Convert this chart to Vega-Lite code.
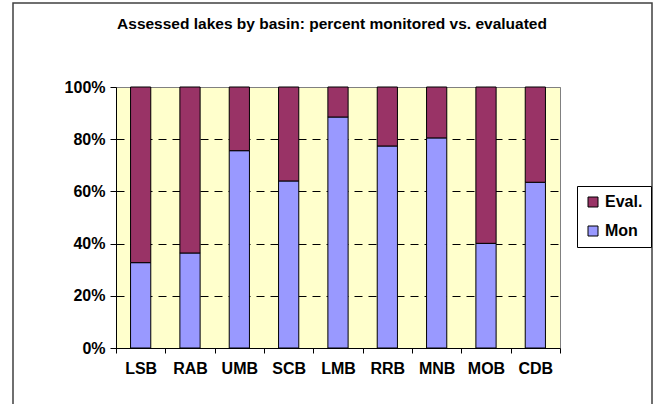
{
  "$schema": "https://vega.github.io/schema/vega-lite/v6.json",
  "width": 444,
  "height": 261,
  "autosize": {"type": "none"},
  "padding": {"left": 116, "top": 87, "right": 100, "bottom": 56},
  "background": "white",
  "title": {
    "text": "Assessed lakes by basin: percent monitored vs. evaluated",
    "font": "Liberation Sans",
    "fontSize": 15.5,
    "fontWeight": "bold",
    "color": "black",
    "anchor": "middle",
    "frame": "group",
    "baseline": "bottom",
    "offset": -45,
    "dx": -6
  },
  "config": {
    "view": {"fill": "#FFFFCC", "stroke": "#808080", "strokeWidth": 1}
  },
  "layer": [
    {
      "data": {"values": [{"frame": 1}]},
      "mark": {"type": "rect", "fill": null, "stroke": "#404040", "strokeWidth": 1.5},
      "encoding": {
        "x": {"value": -103},
        "x2": {"value": 536},
        "y": {"value": -84},
        "y2": {"value": 330}
      }
    },
    {
      "data": {
        "values": [
          {"basin": "LSB", "series": "Mon", "pct": 32.7},
          {"basin": "LSB", "series": "Eval.", "pct": 67.3},
          {"basin": "RAB", "series": "Mon", "pct": 36.4},
          {"basin": "RAB", "series": "Eval.", "pct": 63.6},
          {"basin": "UMB", "series": "Mon", "pct": 75.6},
          {"basin": "UMB", "series": "Eval.", "pct": 24.4},
          {"basin": "SCB", "series": "Mon", "pct": 64.0},
          {"basin": "SCB", "series": "Eval.", "pct": 36.0},
          {"basin": "LMB", "series": "Mon", "pct": 88.5},
          {"basin": "LMB", "series": "Eval.", "pct": 11.5},
          {"basin": "RRB", "series": "Mon", "pct": 77.4},
          {"basin": "RRB", "series": "Eval.", "pct": 22.6},
          {"basin": "MNB", "series": "Mon", "pct": 80.5},
          {"basin": "MNB", "series": "Eval.", "pct": 19.5},
          {"basin": "MOB", "series": "Mon", "pct": 40.1},
          {"basin": "MOB", "series": "Eval.", "pct": 59.9},
          {"basin": "CDB", "series": "Mon", "pct": 63.5},
          {"basin": "CDB", "series": "Eval.", "pct": 36.5}
        ]
      },
      "mark": {"type": "bar", "stroke": "black", "strokeWidth": 1, "width": {"band": 0.41}},
      "encoding": {
        "x": {
          "field": "basin",
          "type": "nominal",
          "sort": null,
          "scale": {"paddingInner": 0, "paddingOuter": 0},
          "axis": {
            "title": null,
            "tickBand": "extent",
            "labelAngle": 0,
            "domainColor": "black",
            "tickColor": "black",
            "tickSize": 5,
            "labelFont": "Liberation Sans",
            "labelFontSize": 16,
            "labelFontWeight": "bold",
            "labelColor": "black",
            "labelPadding": 7
          }
        },
        "y": {
          "field": "pct",
          "type": "quantitative",
          "stack": "normalize",
          "scale": {"domain": [0, 1]},
          "axis": {
            "title": null,
            "format": ".0%",
            "values": [0, 0.2, 0.4, 0.6, 0.8, 1],
            "grid": true,
            "gridColor": {"condition": {"test": "datum.value === 1", "value": "#808080"}, "value": "black"},
            "gridDash": {"condition": {"test": "datum.value === 1", "value": []}, "value": [8, 6]},
            "gridWidth": 1,
            "domainColor": "black",
            "tickColor": "black",
            "tickSize": 6,
            "labelFont": "Liberation Sans",
            "labelFontSize": 16,
            "labelFontWeight": "bold",
            "labelColor": "black",
            "labelPadding": 5
          }
        },
        "color": {
          "field": "series",
          "type": "nominal",
          "scale": {"domain": ["Eval.", "Mon"], "range": ["#993366", "#9999FF"]},
          "legend": {
            "title": null,
            "orient": "none",
            "legendX": 461,
            "legendY": 99,
            "strokeColor": "black",
            "fillColor": "white",
            "padding": 8,
            "symbolType": "square",
            "symbolSize": 100,
            "symbolStrokeColor": "black",
            "symbolStrokeWidth": 1,
            "labelFont": "Liberation Sans",
            "labelFontSize": 16,
            "labelFontWeight": "bold",
            "labelColor": "black",
            "rowPadding": 13,
            "labelOffset": 4
          }
        },
        "order": {"field": "series", "sort": "descending"}
      }
    }
  ]
}
